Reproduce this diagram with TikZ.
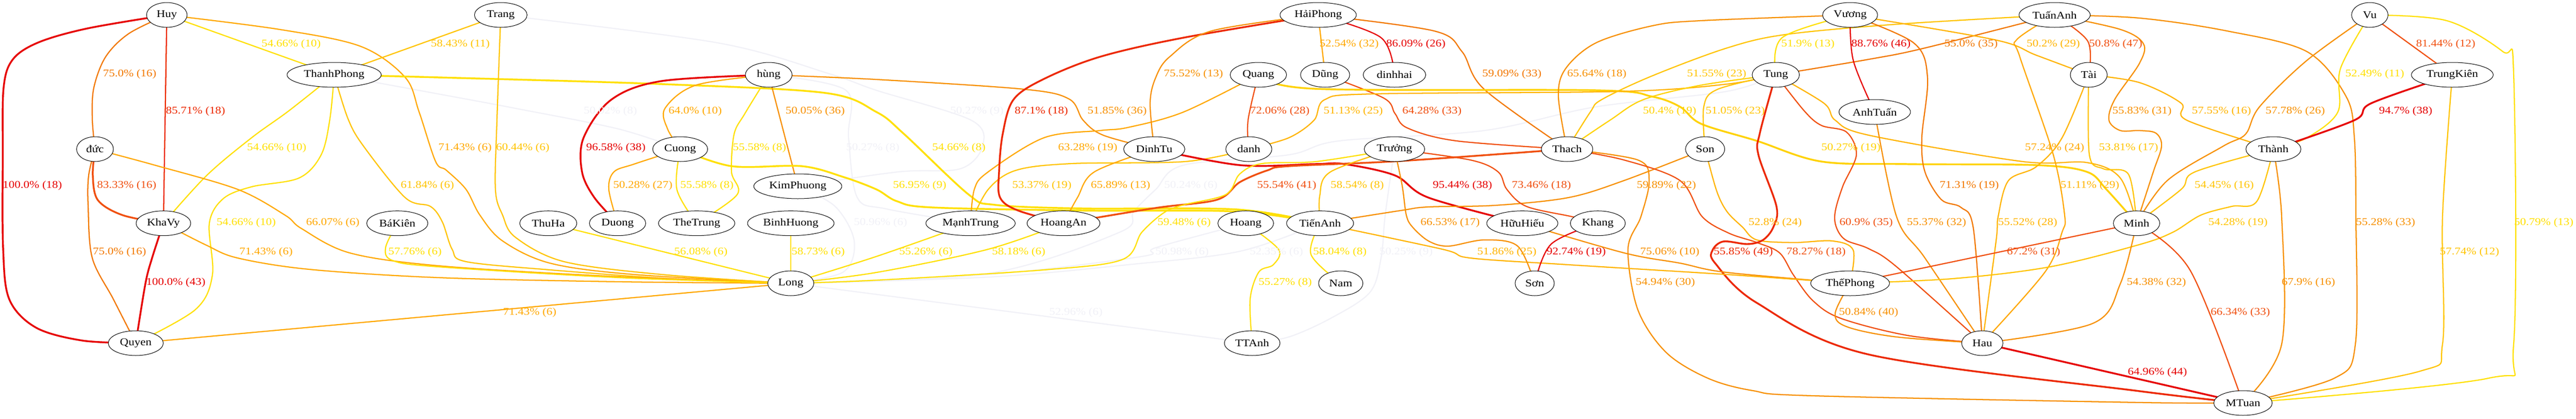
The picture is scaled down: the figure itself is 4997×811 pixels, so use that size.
\documentclass[tikz,border=0pt]{standalone}
\usepackage{fontspec}
\setmainfont{Liberation Serif}[FakeStretch=1.15]
\usetikzlibrary{shapes.geometric}
\pgfdeclarelayer{bg}
\pgfsetlayers{bg,main}
\definecolor{kR}{HTML}{E60000}
\definecolor{kRO}{HTML}{EC2800}
\definecolor{kOR}{HTML}{F05010}
\definecolor{kO1}{HTML}{F27800}
\definecolor{kO2}{HTML}{F79000}
\definecolor{kO3}{HTML}{FFA800}
\definecolor{kGO}{HTML}{FFB400}
\definecolor{kG}{HTML}{FFC400}
\definecolor{kYG}{HTML}{FFD200}
\definecolor{kY}{HTML}{FFE000}
\definecolor{kF}{HTML}{F1F1F7}
\newcommand\cnx[2]{\draw[cn,#1] plot[smooth,tension=.55] coordinates {#2};}
\newcommand\elab[4]{\node[lbl,#1] (#2) at (#3) {#4};}
\newcommand\gnode[4]{\node[nd,minimum width=#3pt] (#1) at (#2) {#4};}
\begin{document}
\begin{tikzpicture}[x=0.75pt,y=-0.75pt,
  nd/.style={ellipse,draw=black,line width=0.75pt,fill=white,minimum height=36pt,inner sep=0pt,font=\fontsize{15}{18}\selectfont},
  lbl/.style={inner sep=0pt,font=\fontsize{15}{18}\selectfont},
  cn/.style={line width=1.7pt,line cap=round,line join=round},
  hv/.style={line width=2.6pt}]
\useasboundingbox (0,0) rectangle (4997,811);
% nodes
\gnode{huy}{323.6,29}{59}{Huy}
\gnode{thanhphong}{648.2,145}{137}{ThanhPhong}
\gnode{duc}{184.3,289}{53.6}{đức}
\gnode{khavy}{317,432.7}{79.5}{KhaVy}
\gnode{quyen}{263.4,665}{80}{Quyen}
\gnode{bakien}{770.7,432.7}{89}{BáKiên}
\gnode{trang}{971.4,29}{76.5}{Trang}
\gnode{hung}{1491.2,145}{68}{hùng}
\gnode{cuong}{1319.4,289}{80}{Cuong}
\gnode{kimphuong}{1547.6,361}{128}{KimPhuong}
\gnode{thuha}{1063.6,432.7}{83}{ThuHa}
\gnode{duong}{1198,432.7}{82}{Duong}
\gnode{thetrung}{1351.4,432.7}{111}{TheTrung}
\gnode{binhhuong}{1534,432.7}{126}{BinhHuong}
\gnode{long}{1534,549}{67}{Long}
\gnode{haiphong}{2557,29}{111}{HảiPhong}
\gnode{quang}{2441,145}{82}{Quang}
\gnode{dung}{2570.5,145}{71.5}{Dũng}
\gnode{dinhhai}{2705,145}{91}{dinhhai}
\gnode{dinhtu}{2239,289}{89}{DinhTu}
\gnode{danh}{2422.5,289}{67}{danh}
\gnode{manhtrung}{1882.7,432.7}{130}{MạnhTrung}
\gnode{hoangan}{2063,432.7}{106}{HoangAn}
\gnode{hoang}{2416.5,432.7}{81}{Hoang}
\gnode{tienanh}{2560.7,432.7}{97.5}{TiếnAnh}
\gnode{ttanh}{2429,665}{81}{TTAnh}
\gnode{truong}{2705,289}{88}{Trưởng}
\gnode{thach}{3039.8,289}{75}{Thach}
\gnode{son}{3307.6,289}{57}{Son}
\gnode{huuhieu}{2953,432.7}{103.5}{HữuHiếu}
\gnode{khang}{3099.5,432.7}{80}{Khang}
\gnode{nam}{2600.8,549}{64.5}{Nam}
\gnode{sonn}{2977,549}{57}{Sơn}
\gnode{vuong}{3588.9,29}{80}{Vương}
\gnode{tuananh}{3985.6,29}{103.5}{TuấnAnh}
\gnode{tung}{3444.7,145}{68.7}{Tung}
\gnode{anhtuan}{3636.6,217}{104}{AnhTuấn}
\gnode{tai}{4051.8,145}{53.6}{Tài}
\gnode{thephong}{3588.9,549}{114.6}{ThếPhong}
\gnode{hau}{3845.3,665}{60}{Hau}
\gnode{minh}{4144.5,432.7}{67.5}{Minh}
\gnode{thanh}{4410,289}{80}{Thành}
\gnode{vu}{4597,29}{53}{Vu}
\gnode{trungkien}{4757,145}{119}{TrungKiên}
\gnode{mtuan}{4351,781}{85}{MTuan}
\begin{pgfonlayer}{bg}
\fill[white] (0,0) rectangle (4997,811);
% faint edges
\cnx{kF}{(thanhphong.center) (850,182) (1000,210) (1200,250) (cuong.center)}
\cnx{kF}{(trang.center) (1392,83) (1609,143) (1700,175) (1884,233) (1906,283) (1863,327) (1743,333) (kimphuong.center)}
\cnx{kF}{(hung.center) (1641,175) (1646,267) (1663,383) (1720,405) (manhtrung.center)}
\cnx{kF}{(kimphuong.center) (1620,400) (1657,467) (1636,527) (long.center)}
\cnx{kF}{(tung.center) (3350,177) (3096,207) (2879,253) (2598,273) (2500,300) (2296,320) (2242,367) (2199,410) (2172,450) (1917,530) (long.center)}
\cnx{kF}{(hoang.center) (2242,480) (2215,497) (1917,532) (long.center)}
\cnx{kF}{(tienanh.center) (2405,487) (2188,513) (1917,537) (long.center)}
\cnx{kF}{(ttanh.center) (long.center)}
\cnx{kF}{(truong.center) (2687,417) (2679,500) (2657,567) (2581,617) (2500,653) (ttanh.center)}
% left part
\cnx{kR,hv}{(huy.center) (170,55) (75,82) (25,115) (7,170) (5.4,300) (6,480) (18,580) (70,635) (160,660) (quyen.center)}
\cnx{kO1}{(huy.center) (250,65) (205,110) (182,170) (179,230) (duc.center)}
\cnx{kRO}{(huy.center) (khavy.center)}
\cnx{kY}{(huy.center) (thanhphong.center)}
\cnx{kO3}{(huy.center) (542,57) (700,90) (786,150) (813,217) (845,313) (866,330) (904,367) (931,417) (975,467) (1067,510) (1230,532) (long.center)}
\cnx{kG}{(trang.center) (thanhphong.center)}
\cnx{kY}{(thanhphong.center) (560,215) (488,267) (401,340) (khavy.center)}
\cnx{kY}{(thanhphong.center) (640,230) (623,300) (580,345) (488,362) (433,385) (406,433) (412,533) (379,600) (quyen.center)}
\cnx{kG}{(thanhphong.center) (675,230) (705,283) (786,383) (835,400) (858,430) (877,483) (904,507) (1067,523) (1300,540) (long.center)}
\cnx{kY,hv}{(thanhphong.center) (850,150) (1284,163) (1600,180) (1700,217) (1754,260) (1879,377) (1930,397) (2100,404) (2400,406) (tienanh.center)}
\cnx{kO3}{(duc.center) (300,320) (461,367) (553,417) (585,443) (678,490) (850,515) (1175,535) (long.center)}
\cnx{kOR,hv}{(duc.center) (180,340) (190,388) (238,417) (khavy.center)}
\cnx{kO1}{(duc.center) (172,340) (171,400) (179,500) (220,580) (quyen.center)}
\cnx{kR,hv}{(khavy.center) (295,500) (282,550) (quyen.center)}
\cnx{kO3}{(khavy.center) (400,475) (461,500) (600,522) (850,538) (1200,546) (long.center)}
\cnx{kO3}{(quyen.center) (long.center)}
\cnx{kY}{(bakien.center) (748,480) (762,505) (850,517) (1200,538) (long.center)}
\cnx{kG}{(trang.center) (964,233) (961,367) (975,417) (1000,460) (1094,507) (1284,532) (long.center)}
\cnx{kY}{(thuha.center) (long.center)}
\cnx{kY}{(binhhuong.center) (long.center)}
\cnx{kR,hv}{(hung.center) (1284,157) (1186,193) (1132,267) (1129,333) (1153,383) (duong.center)}
\cnx{kO3}{(hung.center) (1350,165) (1290,210) (1295,250) (cuong.center)}
\cnx{kY}{(hung.center) (1445,220) (1424,260) (1419,333) (1430,377) (thetrung.center)}
\cnx{kO2}{(hung.center) (kimphuong.center)}
\cnx{kO2}{(hung.center) (1700,154) (1987,173) (2074,192) (2101,233) (2140,262) (dinhtu.center)}
\cnx{kO3}{(cuong.center) (1230,318) (1191,333) (1181,367) (duong.center)}
\cnx{kY}{(cuong.center) (1313,367) (thetrung.center)}
\cnx{kY,hv}{(cuong.center) (1419,322) (1555,322) (1636,343) (1700,367) (1740,390) (1808,402) (2100,408) (2400,410) (tienanh.center)}
% middle
\cnx{kO3}{(quang.center) (2296,217) (2188,247) (2134,253) (2025,267) (1917,333) (1890,367) (manhtrung.center)}
\cnx{kG}{(danh.center) (2300,313) (2079,317) (1971,330) (1917,367) (manhtrung.center)}
\cnx{kO3}{(dinhtu.center) (2123,333) (2090,383) (hoangan.center)}
\cnx{kRO,hv}{(haiphong.center) (2296,73) (2134,110) (2025,153) (1966,193) (1945,260) (1938,333) (1940,383) (1975,408) (hoangan.center)}
\cnx{kO2}{(haiphong.center) (2350,60) (2269,110) (2242,150) (2231,200) (dinhtu.center)}
\cnx{kOR}{(quang.center) (2421,233) (danh.center)}
\cnx{kR,hv}{(dinhtu.center) (2405,320) (2550,318) (2608,318) (2706,340) (2771,383) (huuhieu.center)}
\cnx{kOR,hv}{(hoangan.center) (2242,403) (2361,387) (2405,353) (2459,330) (2500,322) (2717,312) (thach.center)}
\cnx{kY}{(truong.center) (2554,313) (2448,317) (2405,337) (2378,377) (2296,397) (2258,412) (2215,450) (2177,503) (2025,523) (1700,543) (long.center)}
\cnx{kY}{(manhtrung.center) (1700,497) (long.center)}
\cnx{kY}{(hoangan.center) (1917,483) (1700,528) (long.center)}
\cnx{kY}{(hoang.center) (2480,483) (2470,513) (2442,527) (2425,580) (ttanh.center)}
\cnx{kG}{(truong.center) (2581,333) (2560,380) (tienanh.center)}
\cnx{kO3}{(haiphong.center) (dung.center)}
\cnx{kR}{(haiphong.center) (2679,73) (dinhhai.center)}
\cnx{kO1}{(haiphong.center) (2782,60) (2836,100) (2879,173) (thach.center)}
\cnx{kOR}{(dung.center) (2684,190) (2706,220) (2730,248) (2825,273) (thach.center)}
\cnx{kYG,hv}{(quang.center) (2550,172) (3096,175) (3204,187) (3259,207) (3300,240) (3408,273) (3533,313) (3700,318) (3950,320) (4048,333) (4086,367) (minh.center)}
\cnx{kGO}{(danh.center) (2500,267) (2549,233) (2570,193) (2663,182) (3150,177) (3350,163) (tung.center)}
\cnx{kYG}{(thach.center) (3123,233) (3188,193) (3300,165) (tung.center)}
\cnx{kG}{(thach.center) (3085,217) (3107,193) (3205,147) (3350,93) (3463,67) (3679,47) (tuananh.center)}
\cnx{kO2}{(vuong.center) (3300,40) (3205,50) (3096,83) (3037,133) (3023,187) (thach.center)}
\cnx{kG}{(tung.center) (3332,173) (3305,207) (son.center)}
\cnx{kO2}{(son.center) (3150,350) (3042,383) (2900,398) (2771,401) (2717,408) (tienanh.center)}
\cnx{kGO}{(son.center) (3330,370) (3350,410) (3380,440) (3408,465) (3480,470) (3555,467) (3595,485) (thephong.center)}
\cnx{kO2}{(thach.center) (3177,310) (3199,350) (3183,420) (3158,483) (3177,600) (3232,683) (3313,733) (3400,757) (3517,767) (4150,780) (mtuan.center)}
\cnx{kOR}{(thach.center) (3150,310) (3259,350) (3302,420) (3354,452) (3408,470) (3452,490) (3479,533) (3517,583) (3571,617) (3700,650) (hau.center)}
\cnx{kRO,hv}{(tung.center) (3414,257) (3411,300) (3446,400) (3440,440) (3420,465) (3390,473) (3343,468) (3322,485) (3327,510) (3408,587) (3625,687) (4150,758) (mtuan.center)}
\cnx{kOR}{(tung.center) (3500,215) (3533,243) (3582,256) (3601,300) (3575,360) (3560,410) (3562,440) (3580,465) (3625,482) (3679,517) (hau.center)}
\cnx{kGO}{(tung.center) (3538,200) (3560,233) (3625,262) (3923,313) (4048,315) (4113,345) (minh.center)}
\cnx{kO1}{(tuananh.center) (3734,93) (3625,115) (tung.center)}
\cnx{kY}{(vuong.center) (3457,73) (tung.center)}
\cnx{kR}{(vuong.center) (3595,117) (anhtuan.center)}
\cnx{kGO}{(vuong.center) (3869,77) (3950,107) (tai.center)}
\cnx{kO1}{(vuong.center) (3712,83) (3739,150) (3728,267) (3734,333) (3766,387) (3804,402) (3828,443) (hau.center)}
\cnx{kO2}{(anhtuan.center) (3679,420) (3734,500) (hau.center)}
\cnx{kO3}{(tuananh.center) (3912,77) (3918,110) (3983,300) (4005,417) (4000,450) (3967,527) (hau.center)}
\cnx{kOR}{(tuananh.center) (4050,80) (tai.center)}
\cnx{kO2}{(tuananh.center) (4150,35) (4320,60) (4475,100) (4551,187) (4567,267) (4570,420) (4569,667) (4528,733) (mtuan.center)}
\cnx{kO2}{(tuananh.center) (4113,57) (4158,85) (4150,123) (4102,193) (4091,233) (4113,253) (4150,253) (4182,258) (4193,283) (4177,333) (minh.center)}
\cnx{kG}{(tai.center) (4053,300) (4080,327) (4129,338) (minh.center)}
\cnx{kGO}{(tai.center) (4000,267) (3950,323) (3896,350) (3876,420) (3872,467) (hau.center)}
\cnx{kGO}{(tai.center) (4150,160) (4231,200) (4242,233) (thanh.center)}
\cnx{kOR}{(vu.center) (trungkien.center)}
\cnx{kY}{(vu.center) (4540,133) (4535,217) (4475,267) (thanh.center)}
\cnx{kO2}{(vu.center) (4475,117) (4383,207) (4356,260) (4313,283) (4204,350) (minh.center)}
\cnx{kR,hv}{(trungkien.center) (4600,200) (4567,233) (thanh.center)}
\cnx{kY}{(vu.center) (4746,40) (4855,100) (4876,143) (4876,667) (4827,733) (mtuan.center)}
\cnx{kG}{(trungkien.center) (4738,420) (4738,667) (4692,720) (mtuan.center)}
\cnx{kO2}{(thanh.center) (4426,420) (4426,667) (mtuan.center)}
\cnx{kG}{(thanh.center) (4258,333) (4231,367) (minh.center)}
\cnx{kG}{(thanh.center) (4378,390) (4329,400) (4269,417) (4215,450) (4150,474) (3977,517) (3788,540) (thephong.center)}
\cnx{kOR}{(minh.center) (thephong.center)}
\cnx{kO2}{(minh.center) (4113,550) (4059,627) (hau.center)}
\cnx{kOR}{(minh.center) (4248,523) (mtuan.center)}
\cnx{kR,hv}{(hau.center) (mtuan.center)}
\cnx{kO2}{(thephong.center) (3560,607) (3582,633) (3679,653) (hau.center)}
\cnx{kO2}{(huuhieu.center) (3150,490) (3259,510) (3350,528) (thephong.center)}
\cnx{kGO}{(tienanh.center) (2798,483) (2852,500) (3042,513) (3350,532) (thephong.center)}
\cnx{kO2}{(truong.center) (2720,360) (2728,417) (2740,440) (2771,467) (2809,477) (2879,465) (2944,477) (sonn.center)}
\cnx{kOR}{(truong.center) (2852,310) (2906,333) (2923,367) (2961,400) (3050,420) (khang.center)}
\cnx{kR}{(khang.center) (3009,473) (sonn.center)}
\cnx{kY}{(tienanh.center) (2543,493) (nam.center)}
\end{pgfonlayer}
% labels
\elab{kR}{l1}{62.9,360}{100.0\% (18)}
\elab{kO1}{l2}{251.5,144}{75.0\% (16)}
\elab{kRO}{l3}{379.4,216}{85.71\% (18)}
\elab{kY}{l4}{564.8,86}{54.66\% (10)}
\elab{kG}{l5}{893,86}{58.43\% (11)}
\elab{kY}{l6}{536.9,287}{54.66\% (10)}
\elab{kOR}{l7}{245.8,360}{83.33\% (16)}
\elab{kG}{l8}{829,360}{61.84\% (6)}
\elab{kY}{l9}{477.5,432}{54.66\% (10)}
\elab{kO3}{l10}{645.5,432}{66.07\% (6)}
\elab{kO1}{l11}{231.9,489}{75.0\% (16)}
\elab{kO3}{l12}{516,489}{71.43\% (6)}
\elab{kY}{l13}{805,489}{57.76\% (6)}
\elab{kR}{l14}{341,548}{100.0\% (43)}
\elab{kO3}{l15}{902,287}{71.43\% (6)}
\elab{kG}{l16}{1014,287}{60.44\% (6)}
\elab{kO3}{l17}{1027.5,606}{71.43\% (6)}
\elab{kF}{l18}{1184,216}{50.02\% (8)}
\elab{kR}{l19}{1194.7,287}{96.58\% (38)}
\elab{kO3}{l20}{1348.6,216}{64.0\% (10)}
\elab{kO2}{l21}{1581.3,216}{50.05\% (36)}
\elab{kY}{l22}{1473.3,287}{55.58\% (8)}
\elab{kO3}{l23}{1247,360}{50.28\% (27)}
\elab{kY}{l24}{1371.4,360}{55.58\% (8)}
\elab{kY}{l25}{1359.5,489}{56.08\% (6)}
\elab{kY}{l26}{1587,489}{58.73\% (6)}
\elab{kF}{l27}{1693,287}{50.27\% (8)}
\elab{kF}{l28}{1708,432}{50.96\% (6)}
\elab{kF}{l29}{1895,216}{50.27\% (9)}
\elab{kRO}{l30}{2020,216}{87.1\% (18)}
\elab{kO2}{l31}{2167,216}{51.85\% (36)}
\elab{kO2}{l32}{2315,144}{75.52\% (13)}
\elab{kOR}{l33}{2482.7,216}{72.06\% (28)}
\elab{kY}{l34}{1860,287}{54.66\% (8)}
\elab{kO3}{l35}{2110,287}{63.28\% (19)}
\elab{kY}{l36}{1784,360}{56.95\% (9)}
\elab{kG}{l37}{2021,360}{53.37\% (19)}
\elab{kO3}{l38}{2173.7,360}{65.89\% (13)}
\elab{kF}{l39}{2310,360}{50.24\% (6)}
\elab{kOR}{l40}{2496,360}{55.54\% (41)}
\elab{kY}{l41}{1796,489}{55.26\% (6)}
\elab{kY}{l42}{1976,489}{58.18\% (6)}
\elab{kY}{l43}{2297,432}{59.48\% (6)}
\elab{kF}{l44}{2293,489}{50.98\% (6)}
\elab{kF}{l45}{2476,489}{52.35\% (6)}
\elab{kY}{l46}{2493,548}{55.27\% (8)}
\elab{kF}{l47}{2087,606}{52.96\% (6)}
\elab{kO3}{l48}{2617,86}{52.54\% (32)}
\elab{kR}{l49}{2746.6,86}{86.09\% (26)}
\elab{kO1}{l50}{2932.8,144}{59.09\% (33)}
\elab{kO2}{l51}{3097.6,144}{65.64\% (18)}
\elab{kG}{l52}{3330,144}{51.55\% (23)}
\elab{kGO}{l53}{2625,216}{51.13\% (25)}
\elab{kOR}{l54}{2777.8,216}{64.28\% (33)}
\elab{kYG}{l55}{3238.8,216}{50.4\% (19)}
\elab{kG}{l56}{3366,216}{51.05\% (23)}
\elab{kG}{l57}{2632.8,360}{58.54\% (8)}
\elab{kR}{l58}{2836.9,360}{95.44\% (38)}
\elab{kOR}{l59}{2990,360}{73.46\% (18)}
\elab{kO2}{l60}{3232.6,360}{59.89\% (22)}
\elab{kO2}{l61}{2813,432}{66.53\% (17)}
\elab{kY}{l62}{2599.2,489}{58.04\% (8)}
\elab{kF}{l63}{2727.6,489}{50.25\% (9)}
\elab{kGO}{l64}{2923,489}{51.86\% (25)}
\elab{kR}{l65}{3057.5,489}{92.74\% (19)}
\elab{kO2}{l66}{3239,489}{75.06\% (10)}
\elab{kO2}{l67}{3230.6,548}{54.94\% (30)}
\elab{kY}{l68}{3507,86}{51.9\% (13)}
\elab{kR}{l69}{3648.8,86}{88.76\% (46)}
\elab{kO1}{l70}{3823.6,86}{55.0\% (35)}
\elab{kGO}{l71}{3983,86}{50.2\% (29)}
\elab{kOR}{l72}{4104,86}{50.8\% (47)}
\elab{kO2}{l73}{4155,216}{55.83\% (31)}
\elab{kYG}{l74}{3590.5,287}{50.27\% (19)}
\elab{kO3}{l75}{3985.6,287}{57.24\% (24)}
\elab{kG}{l76}{4129,287}{53.81\% (17)}
\elab{kO1}{l77}{3820,360}{71.31\% (19)}
\elab{kGO}{l78}{4054,360}{51.11\% (29)}
\elab{kGO}{l79}{3443.6,432}{52.8\% (24)}
\elab{kOR}{l80}{3620,432}{60.9\% (35)}
\elab{kO2}{l81}{3756.6,432}{55.37\% (32)}
\elab{kGO}{l82}{3933.3,432}{55.52\% (28)}
\elab{kRO}{l83}{3381.8,489}{55.85\% (49)}
\elab{kOR}{l84}{3522.8,489}{78.27\% (18)}
\elab{kOR}{l85}{3944.7,489}{67.2\% (31)}
\elab{kO2}{l86}{3624.7,606}{50.84\% (40)}
\elab{kO2}{l87}{4183,548}{54.38\% (32)}
\elab{kR}{l88}{4185,722}{64.96\% (44)}
\elab{kOR}{l89}{4744.3,86}{81.44\% (12)}
\elab{kY}{l90}{4606.6,144}{52.49\% (11)}
\elab{kGO}{l91}{4309.3,216}{57.55\% (16)}
\elab{kO2}{l92}{4452.4,216}{57.78\% (26)}
\elab{kR}{l93}{4666.5,216}{94.7\% (38)}
\elab{kG}{l94}{4314.5,360}{54.45\% (16)}
\elab{kG}{l95}{4341.3,432}{54.28\% (19)}
\elab{kO2}{l96}{4627.6,432}{55.28\% (33)}
\elab{kY}{l97}{4934.6,432}{50.79\% (13)}
\elab{kO2}{l98}{4477.9,548}{67.9\% (16)}
\elab{kG}{l99}{4790.4,489}{57.74\% (12)}
\elab{kOR}{l100}{4345.9,606}{66.34\% (33)}
\end{tikzpicture}
\end{document}
